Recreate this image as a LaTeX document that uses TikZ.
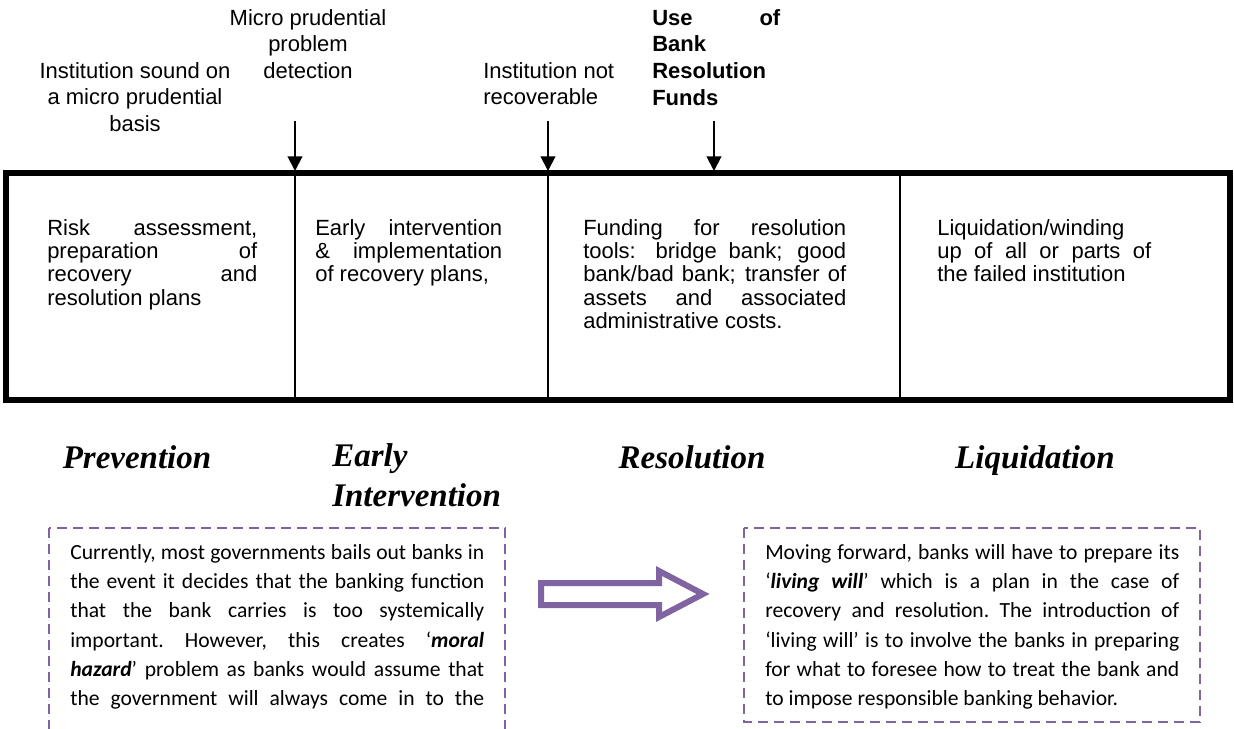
\documentclass[tikz,border=0pt]{standalone}
\usepackage{fontspec}
\setmainfont{Liberation Sans}
\newfontfamily\timesbi{Liberation Serif}
\newfontfamily\calibri{Carlito}
\usepackage{xcolor}
\usetikzlibrary{positioning,calc,arrows.meta}
\definecolor{lilac}{HTML}{8064A2}
\tikzstyle{event} = [inner sep=0pt,font=\fontsize{16.5}{20}\selectfont]
\tikzstyle{cell} = [inner sep=0pt,anchor=north west,align=justify,font=\fontsize{16.5}{17.5}\selectfont]
\tikzstyle{phase} = [inner sep=0pt,anchor=base,font=\timesbi\bfseries\itshape\fontsize{24.75}{29}\selectfont]
\tikzstyle{note} = [inner sep=0pt,anchor=north west,align=justify,text width=310.5pt,font=\calibri\fontsize{16.2}{22}\selectfont\frenchspacing]
\tikzstyle{line} = [-{Triangle[length=11pt,width=11pt]},line width=1.5pt]
\tikzstyle{dashbox} = [draw=lilac,line width=1.9pt,dash pattern=on 7.5pt off 4.5pt]

\begin{document}
\begin{tikzpicture}[x=0.75pt,y=-0.75pt]
        \useasboundingbox (0,0) rectangle (1234,728);
        \draw[line width=4.5pt] (6,173) rectangle (1230,400);
        \foreach \x in {295,548,900} \draw[line width=1.5pt] (\x,173) -- (\x,400);
        \node[event,align=center,anchor=north] (sound) at (135,62) {Institution sound on\\a micro prudential\\basis};
        \node[event,align=center,anchor=north] (detect) at (308,9) {Micro prudential\\problem\\detection};
        \node[event,align=left,anchor=north west] (notrec) at (483,62) {Institution not\\recoverable};
        \node[event,anchor=north west,text width=96pt,font=\bfseries\fontsize{16.5}{20}\selectfont] (funds) at (652,9) {Use\hfill of\\Bank\\Resolution\\Funds};
        \coordinate (detectfrom) at (295,121); \coordinate (detectto) at (295,171);
        \coordinate (failfrom) at (548,121); \coordinate (failto) at (548,171);
        \coordinate (fundsfrom) at (714,121); \coordinate (fundsto) at (714,171);
        \draw[line] (detectfrom) -- (detectto);
        \draw[line] (failfrom) -- (failto);
        \draw[line] (fundsfrom) -- (fundsto);
        \node[cell,text width=157.5pt] (prevcell) at (47,219) {Risk assessment,\linebreak preparation of\linebreak recovery and\linebreak resolution plans};
        \node[cell,text width=140.25pt] (earlycell) at (315,219) {Early intervention\linebreak \& implementation\linebreak of recovery plans,};
        \node[cell,text width=197.25pt] (rescell) at (583,219) {Funding for resolution\linebreak tools: bridge bank; good\linebreak bank/bad bank; transfer of\linebreak assets and associated\linebreak administrative costs.};
        \node[cell,text width=160.5pt] (liqcell) at (937,219) {Liquidation/winding\linebreak up of all or parts of\linebreak the failed institution};
        \node[phase] (prevention) at (137,468) {Prevention};
        \node[phase,anchor=base west] (early) at (332,466) {Early};
        \node[phase,anchor=base west] (intervention) at (332,506) {Intervention};
        \node[phase] (resolution) at (692,468) {Resolution};
        \node[phase] (liquidation) at (1035,468) {Liquidation};
        \draw[dashbox] (49,528) rectangle (505,745);
        \draw[dashbox] (744,528) rectangle (1200,722);
        \node[note] (bailout) at (70,544) {Currently, most governments bails out banks in\linebreak the event it decides that the banking function\linebreak that the bank carries is too systemically\linebreak important. However, this creates ‘\textbf{\textit{moral}}\linebreak \textbf{\textit{hazard}}’ problem as banks would assume that\linebreak \makebox[\linewidth][s]{the government will always come in to the}};
        \node[note] (livingwill) at (765,544) {Moving forward, banks will have to prepare its\linebreak ‘\textbf{\textit{living will}}’ which is a plan in the case of\linebreak recovery and resolution. The introduction of\linebreak ‘living will’ is to involve the banks in preparing\linebreak for what to foresee how to treat the bank and\linebreak to impose responsible banking behavior.};
        \draw[lilac,line width=4.5pt,fill=white,line join=miter] (541,583) -- (659,583) -- (659,571) -- (703,594) -- (659,617) -- (659,605) -- (541,605) -- cycle;
\end{tikzpicture}
\end{document}
